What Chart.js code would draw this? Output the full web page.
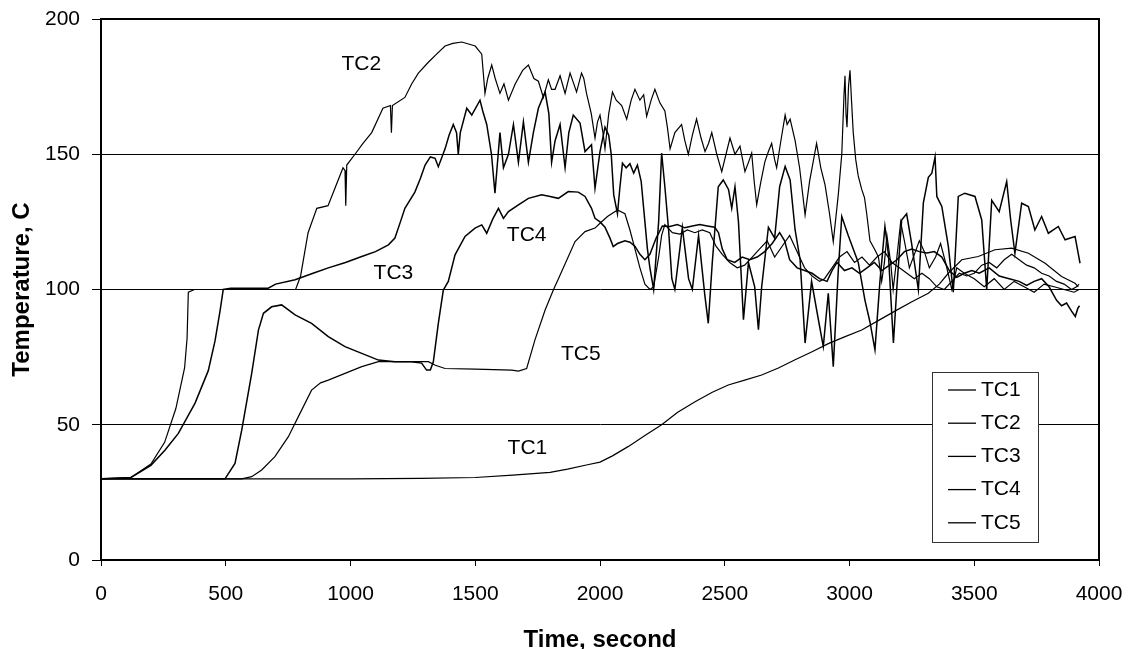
<!DOCTYPE html>
<html>
<head>
<meta charset="utf-8">
<script src="https://cdn.jsdelivr.net/npm/chart.js@4.4.1/dist/chart.umd.min.js"></script>
<style>
  html, body { margin: 0; padding: 0; background: #fff; }
</style>
</head>
<body>
<canvas id="tc-chart" width="1131" height="649"></canvas>
<script>
// thermocouple readings, [time s, temperature C]
var tc1 = [[0,30],[200,30],[500,30],[800,30],[1000,30],[1280,30.2],[1500,30.5],[1650,31.4],[1800,32.4],[1870,33.6],[1950,35.2],[2000,36.2],
  [2050,38.5],[2114,42],[2180,46],[2247,50],[2310,54.5],[2381,58.5],[2450,62],[2514,64.7],[2580,66.5],[2648,68.4],[2715,71],[2782,74],
  [2850,77],[2915,80],[2980,82.5],[3049,85],[3115,88.5],[3182,92],[3250,95.5],[3316,98.6],[3360,102],[3396,106],[3450,111],[3516,112.2],
  [3583,114.7],[3650,115.3],[3717,113.4],[3784,109.7],[3850,104.8],[3904,102.3],[3917,101]];

var tc2 = [[0,30],[120,30.5],[200,35.5],[255,43.5],[300,56],[335,71],[345,82],[350,99],[375,100],[600,100],[780,100],[800,105],[830,121],
  [865,130],[910,131],[940,138],[970,145],[978,144],[981,131],[985,146],[1018,150],[1050,154],[1085,158],[1130,167],[1160,168],[1164,158],
  [1168,168],[1218,171],[1245,176],[1272,180],[1312,184],[1345,187],[1379,190],[1410,191],[1446,191.5],[1500,190],[1526,187],[1539,172.5],
  [1550,178],[1566,183],[1580,178],[1599,172.5],[1615,176],[1633,170],[1660,176],[1690,181],[1713,183],[1735,178],[1753,177],[1773,171],
  [1793,177.5],[1806,174],[1820,174],[1840,179],[1860,172.5],[1880,180],[1895,176],[1906,173],[1926,180],[1935,178],[1946,172.5],
  [1965,165],[1980,156],[1990,162],[2000,164.5],[2012,158],[2020,152],[2035,165],[2050,173],[2065,170],[2087,168],[2107,163],[2125,170],
  [2140,174],[2160,170],[2175,172],[2187,164],[2205,170],[2220,174],[2240,169],[2260,166],[2270,160],[2281,152],[2300,158],[2327,161],
  [2340,155],[2354,150],[2370,157],[2387,163],[2405,156],[2421,151],[2435,154],[2448,158],[2468,150],[2488,143.6],[2505,150],[2521,156],
  [2541,150],[2561,153],[2581,143.6],[2595,147],[2608,150.4],[2618,140],[2628,131.3],[2645,140],[2661,147.3],[2675,151],[2688,154],
  [2700,148],[2708,145],[2725,155],[2742,164.5],[2750,161],[2762,163],[2782,155],[2800,145],[2822,127.6],[2840,140],[2868,154],[2885,145],
  [2902,138.7],[2920,128],[2935,117.7],[2955,135],[2969,150],[2978,172],[2982,179],[2986,165],[2990,160],[2996,175],[3002,181],[3008,170],
  [3015,158],[3025,148],[3035,142],[3049,137],[3060,134],[3069,128],[3082,118],[3100,115],[3116,112],[3129,103],[3140,110],[3150,120],
  [3165,110],[3175,100],[3190,112],[3205,125],[3220,118],[3240,108],[3260,113],[3280,118],[3300,114],[3320,108],[3345,112],[3365,117],
  [3385,110],[3410,100],[3430,108],[3460,106],[3500,104],[3540,101],[3580,104],[3620,100],[3660,103],[3700,101],[3740,99],[3780,102],
  [3820,101],[3860,100],[3900,99],[3920,100]];

var tc3 = [[0,30],[120,30.5],[200,35],[257,40.7],[310,46.8],[377,58],[430,70],[457,81],[477,92],[490,100],[520,100.5],[670,100.5],
  [700,102],[778,103.6],[850,106],[911,108],[980,110],[1045,112.2],[1100,114],[1152,116.5],[1178,119],[1200,125],[1218,130],[1258,136],
  [1280,141],[1299,146],[1320,149],[1339,148.5],[1352,145.4],[1379,152],[1395,157],[1412,161],[1425,158],[1432,150],[1440,158],[1466,167],
  [1486,164.5],[1519,170],[1530,166],[1546,161],[1565,150],[1579,135.6],[1599,158],[1613,145],[1633,150],[1653,161],[1673,147],[1693,162],
  [1713,147],[1733,158],[1753,167],[1780,173],[1795,165],[1806,147],[1820,155],[1840,161],[1860,145],[1875,158],[1893,164.5],[1920,161.5],
  [1940,151],[1966,153.5],[1980,137.4],[2000,151],[2020,160],[2035,157],[2045,150],[2055,135],[2070,128],[2080,138],[2090,146.7],
  [2105,145],[2120,146.5],[2135,143],[2150,146],[2165,140],[2175,130],[2190,115],[2200,108],[2215,100],[2235,125],[2247,150.4],[2260,138],
  [2275,122],[2288,104],[2300,100],[2320,115],[2330,123],[2355,104],[2370,100],[2395,120],[2420,98],[2434,87.5],[2450,110],[2474,138],
  [2494,140.5],[2515,137],[2528,130],[2541,138],[2555,125],[2575,88.8],[2595,110],[2620,101],[2635,85.1],[2648,101],[2675,123],[2700,119],
  [2720,138],[2742,145.5],[2762,140.5],[2782,122],[2802,111],[2822,80.2],[2848,103],[2875,89],[2895,78.9],[2915,98.6],[2935,71.5],
  [2955,107],[2969,127],[2995,120],[3035,110],[3062,96],[3082,88],[3102,77.7],[3122,103],[3142,123.3],[3156,113],[3176,80.2],[3190,101],
  [3209,125.7],[3229,128],[3249,117],[3276,99.9],[3296,132],[3316,141.5],[3330,143],[3343,149],[3350,134.4],[3370,130.7],[3396,116],
  [3416,99],[3436,134.4],[3462,135.6],[3503,134.4],[3530,125.7],[3550,99.9],[3570,133],[3600,128.8],[3630,139.9],[3646,125.7],[3663,113.4],
  [3690,131.9],[3717,130.7],[3743,122],[3770,127],[3797,120.8],[3837,123.3],[3864,118.4],[3904,119.6],[3924,109.7]];

var tc4 = [[0,30],[497,30],[537,35.7],[564,48],[604,69],[631,85],[651,91.2],[684,93.6],[724,94.3],[778,90.6],[844,87.5],[911,82.6],
  [978,78.9],[1045,76.4],[1112,73.9],[1178,73.3],[1245,73.3],[1285,72.8],[1305,70.2],[1320,70.2],[1332,73.3],[1352,87.5],[1372,99.8],
  [1392,103],[1419,112.8],[1459,119.6],[1499,122.7],[1526,123.9],[1546,120.8],[1570,126],[1593,130],[1613,126.3],[1633,128.8],[1673,131.3],
  [1713,133.7],[1766,135],[1800,134.4],[1833,133.7],[1873,136.2],[1913,136],[1940,134.4],[1966,130],[1980,126.3],[2000,125],[2020,123],
  [2040,119],[2053,115.9],[2070,117],[2100,118],[2120,117.5],[2140,116],[2160,113],[2180,111],[2200,113],[2225,119],[2250,123.5],
  [2280,123.3],[2310,124],[2340,122.8],[2370,123.5],[2400,124],[2430,123.5],[2460,123],[2475,121],[2490,115],[2510,111],[2540,110],
  [2570,112],[2600,111],[2630,112],[2660,114],[2690,117],[2720,121],[2740,118],[2760,111],[2790,108],[2820,107],[2850,106],[2880,104],
  [2910,103],[2930,107],[2950,110],[2980,107],[3010,108],[3040,106],[3070,108],[3100,110],[3130,107],[3160,109],[3190,111],[3220,114],
  [3250,115],[3280,114],[3310,113.5],[3340,114],[3370,112],[3400,107],[3430,104.5],[3460,106],[3490,107],[3520,106],[3560,108],[3600,105],
  [3640,104],[3680,103],[3710,101.5],[3740,103],[3770,104],[3800,101],[3830,96],[3850,94],[3870,95],[3890,92],[3905,90],[3915,93],[3922,94]];

var tc5 = [[0,30],[564,30],[604,30.8],[644,33.3],[697,38.2],[751,45.6],[791,53],[844,62.8],[880,65.5],[911,66.5],[978,69],[1045,71.5],
  [1112,73.3],[1200,73.3],[1312,73.3],[1340,72],[1379,70.8],[1500,70.6],[1646,70.2],[1673,69.8],[1706,70.8],[1739,81.3],[1780,92.4],
  [1813,99.8],[1846,106.6],[1900,117.7],[1940,121.4],[1980,122.7],[2000,124.5],[2030,127],[2070,129.4],[2100,128],[2120,122],[2140,115],
  [2160,108],[2180,102],[2200,100],[2215,101],[2235,112],[2247,120],[2260,124],[2290,121],[2320,120.5],[2350,122],[2380,121],[2410,122],
  [2440,121],[2465,116],[2490,113],[2520,110],[2550,108],[2580,109],[2610,112],[2640,115],[2670,118],[2700,112],[2730,116],[2760,120],
  [2790,114],[2820,108],[2850,105],[2880,103],[2900,104],[2930,108],[2960,112],[2990,114],[3020,110],[3050,112],[3080,109],[3110,112],
  [3140,114],[3170,110],[3200,108],[3230,106],[3260,104],[3290,106],[3320,104],[3350,101],[3380,100],[3410,103],[3440,106],[3470,105],
  [3500,106],[3530,109],[3560,110],[3590,108],[3620,111],[3650,113],[3680,111],[3710,109],[3740,108],[3770,106],[3800,105],[3830,103],
  [3860,102],[3890,100],[3910,101],[3920,102]];

var seriesNames = ["TC1", "TC2", "TC3", "TC4", "TC5"];
var seriesData = [tc1, tc2, tc3, tc4, tc5];

// curve labels written inside the plot, in data units
var noteText = ["TC2", "TC3", "TC4", "TC5", "TC1"];
var noteTime = [1043, 1172, 1706, 1923, 1709];
var noteTemp = [183.2, 106, 120.2, 75.9, 41.3];

var fontFamily = '"Liberation Sans", Arial, sans-serif';

function toPoints(pairs) {
  return pairs.map(function (p) { return { x: p[0], y: p[1] }; });
}

var datasets = seriesNames.map(function (name, i) {
  return {
    label: name,
    data: toPoints(seriesData[i]),
    borderColor: "#000",
    backgroundColor: "#000",
    borderWidth: (i == 2 || i == 3) ? 1.5 : 1.2,
    pointRadius: 0,
    tension: 0,
    fill: false
  };
});

// text labels next to the curves
var curveNotes = {
  id: "curveNotes",
  afterDatasetsDraw: function (chart) {
    var ctx = chart.ctx, xs = chart.scales.x, ys = chart.scales.y;
    ctx.save();
    ctx.font = "21px " + fontFamily;
    ctx.fillStyle = "#000";
    ctx.textAlign = "center";
    ctx.textBaseline = "middle";
    for (var i = 0; i < noteText.length; i++) {
      ctx.fillText(noteText[i], xs.getPixelForValue(noteTime[i]), ys.getPixelForValue(noteTemp[i]));
    }
    ctx.restore();
  }
};

// box legend in the lower right of the plot + frame
var boxLegend = {
  id: "boxLegend",
  afterDraw: function (chart) {
    var ctx = chart.ctx, a = chart.chartArea;
    ctx.save();
    ctx.strokeStyle = "#000";
    ctx.lineWidth = 2;
    ctx.strokeRect(a.left, a.top, a.right - a.left, a.bottom - a.top);

    var w = 106, h = 170;
    var left = a.right - 61 - w, top = a.bottom - 18 - h;
    ctx.fillStyle = "#fff";
    ctx.fillRect(left, top, w, h);
    ctx.lineWidth = 1;
    ctx.strokeStyle = "#333";
    ctx.strokeRect(left + 0.5, top + 0.5, w, h);

    ctx.font = "21px " + fontFamily;
    ctx.textBaseline = "middle";
    ctx.textAlign = "left";
    chart.data.datasets.forEach(function (ds, i) {
      var y = top + 18 + i * 33.2;
      ctx.strokeStyle = ds.borderColor;
      ctx.lineWidth = 1.3;
      ctx.beginPath();
      ctx.moveTo(left + 16, y);
      ctx.lineTo(left + 44, y);
      ctx.stroke();
      ctx.fillStyle = "#000";
      ctx.fillText(ds.label, left + 49, y);
    });
    ctx.restore();
  }
};

var ctx = document.getElementById("tc-chart");

var myChart = new Chart(ctx, {
  type: "line",
  data: { datasets: datasets },
  options: {
    responsive: false,
    animation: false,
    parsing: false,
    layout: { padding: { left: 0, top: 19, right: 32, bottom: 0 } },
    plugins: {
      legend: { display: false },
      tooltip: { enabled: false }
    },
    scales: {
      x: {
        type: "linear",
        min: 0,
        max: 4000,
        afterFit: function (scale) {
          scale.height = 89;
          scale.paddingLeft = 0;
          scale.paddingRight = 0;
        },
        ticks: {
          stepSize: 500,
          color: "#000",
          padding: 16,
          maxRotation: 0,
          callback: function (v) { return String(v); },
          font: { family: fontFamily, size: 21 }
        },
        grid: { drawOnChartArea: false, drawTicks: true, tickLength: 6, color: "#000" },
        border: { display: true, color: "#000", width: 2 },
        title: {
          display: true,
          text: "Time, second",
          color: "#000",
          padding: 0,
          font: { family: fontFamily, size: 24, weight: "bold", lineHeight: 0.7 }
        }
      },
      y: {
        min: 0,
        max: 200,
        afterFit: function (scale) {
          scale.width = 101;
          scale.paddingTop = 0;
          scale.paddingBottom = 0;
        },
        ticks: {
          stepSize: 50,
          color: "#000",
          padding: 12,
          callback: function (v) { return String(v); },
          font: { family: fontFamily, size: 21 }
        },
        grid: { color: "#000", lineWidth: 1, tickLength: 9 },
        border: { display: true, color: "#000", width: 2 },
        title: {
          display: true,
          text: "Temperature, C",
          color: "#000",
          padding: { top: 14, bottom: 0 },
          font: { family: fontFamily, size: 24, weight: "bold", lineHeight: 0.7 }
        }
      }
    }
  },
  plugins: [curveNotes, boxLegend]
});
</script>
</body>
</html>
